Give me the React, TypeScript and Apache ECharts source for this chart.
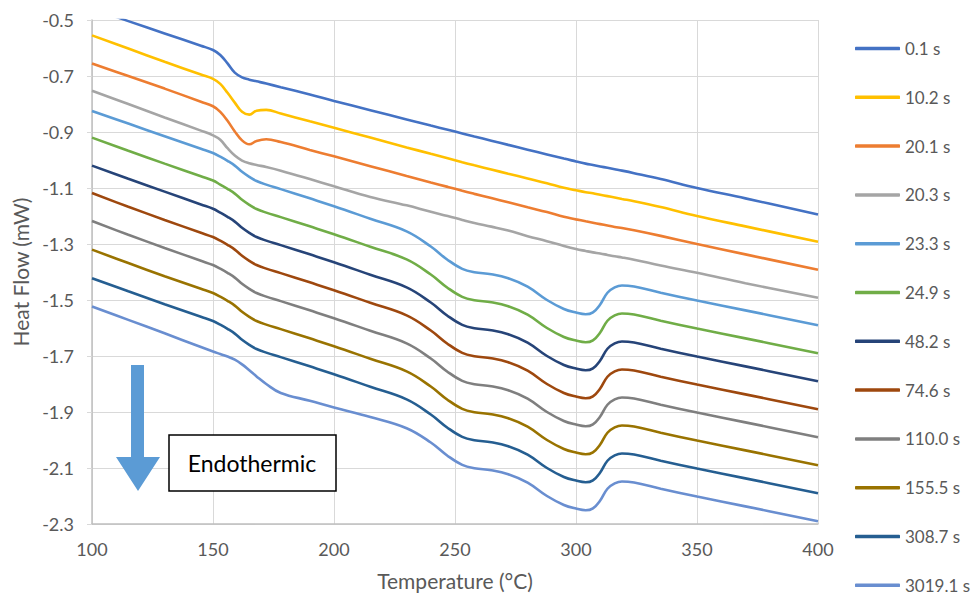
import React, { useEffect, useRef } from "react";
import * as echarts from "echarts";

const temperatures = [100, 115, 130, 145, 150, 153, 156, 159, 162, 165, 168, 172, 178, 190, 200, 215, 230, 240, 247, 253, 258, 265, 272, 280, 288, 295, 300, 304, 307, 310, 313, 316, 319, 324, 335, 350, 370, 400];

const labels = ["0.1 s", "10.2 s", "20.1 s", "20.3 s", "23.3 s", "24.9 s", "48.2 s", "74.6 s", "110.0 s", "155.5 s", "308.7 s", "3019.1 s"];
const colors = ["#4472C4", "#FFC000", "#ED7D31", "#A5A5A5", "#5B9BD5", "#70AD47", "#264478", "#9E480E", "#7F7F7F", "#997300", "#255E91", "#698ED0"];

const s0_1 = [-0.460, -0.504, -0.548, -0.592, -0.607, -0.625, -0.655, -0.688, -0.705, -0.713, -0.719, -0.727, -0.740, -0.766, -0.789, -0.822, -0.855, -0.877, -0.892, -0.905, -0.916, -0.931, -0.946, -0.963, -0.980, -0.995, -1.005, -1.013, -1.018, -1.023, -1.028, -1.033, -1.038, -1.047, -1.068, -1.100, -1.137, -1.195];
const s10_2 = [-0.555, -0.602, -0.649, -0.695, -0.710, -0.728, -0.760, -0.795, -0.828, -0.838, -0.824, -0.821, -0.834, -0.862, -0.885, -0.920, -0.955, -0.978, -0.994, -1.008, -1.019, -1.034, -1.049, -1.066, -1.083, -1.099, -1.108, -1.115, -1.119, -1.124, -1.129, -1.134, -1.139, -1.147, -1.168, -1.200, -1.237, -1.292];
const s20_1 = [-0.655, -0.700, -0.745, -0.792, -0.808, -0.828, -0.860, -0.898, -0.930, -0.944, -0.932, -0.926, -0.936, -0.964, -0.987, -1.022, -1.057, -1.080, -1.096, -1.110, -1.121, -1.136, -1.151, -1.169, -1.186, -1.203, -1.212, -1.219, -1.224, -1.229, -1.234, -1.239, -1.243, -1.251, -1.271, -1.300, -1.337, -1.392];
const s20_3 = [-0.753, -0.800, -0.848, -0.895, -0.912, -0.928, -0.958, -0.984, -1.002, -1.012, -1.018, -1.025, -1.038, -1.068, -1.094, -1.132, -1.162, -1.185, -1.200, -1.214, -1.225, -1.238, -1.252, -1.272, -1.290, -1.307, -1.318, -1.325, -1.330, -1.334, -1.339, -1.344, -1.348, -1.356, -1.377, -1.403, -1.440, -1.492];
const s23_3 = [-0.825, -0.870, -0.915, -0.960, -0.975, -0.988, -1.003, -1.020, -1.042, -1.060, -1.075, -1.088, -1.104, -1.137, -1.165, -1.210, -1.255, -1.309, -1.357, -1.389, -1.401, -1.408, -1.422, -1.452, -1.500, -1.532, -1.545, -1.551, -1.544, -1.516, -1.474, -1.455, -1.448, -1.452, -1.474, -1.502, -1.537, -1.590];
const s24_9 = [-0.920, -0.967, -1.013, -1.058, -1.073, -1.088, -1.103, -1.120, -1.142, -1.160, -1.175, -1.188, -1.204, -1.237, -1.265, -1.310, -1.355, -1.409, -1.457, -1.489, -1.501, -1.508, -1.522, -1.552, -1.600, -1.632, -1.645, -1.651, -1.644, -1.616, -1.574, -1.555, -1.548, -1.552, -1.574, -1.602, -1.637, -1.690];
const s48_2 = [-1.020, -1.067, -1.113, -1.159, -1.174, -1.188, -1.203, -1.220, -1.242, -1.260, -1.275, -1.288, -1.304, -1.337, -1.365, -1.410, -1.455, -1.509, -1.557, -1.589, -1.601, -1.608, -1.622, -1.652, -1.700, -1.732, -1.745, -1.751, -1.744, -1.716, -1.674, -1.655, -1.648, -1.652, -1.674, -1.702, -1.737, -1.790];
const s74_6 = [-1.118, -1.167, -1.214, -1.260, -1.275, -1.288, -1.303, -1.320, -1.342, -1.360, -1.375, -1.388, -1.404, -1.437, -1.465, -1.510, -1.555, -1.609, -1.657, -1.689, -1.701, -1.708, -1.722, -1.752, -1.800, -1.832, -1.845, -1.851, -1.844, -1.816, -1.774, -1.755, -1.748, -1.752, -1.774, -1.802, -1.837, -1.890];
const s110_0 = [-1.218, -1.267, -1.314, -1.360, -1.375, -1.388, -1.403, -1.420, -1.442, -1.460, -1.475, -1.488, -1.504, -1.537, -1.565, -1.610, -1.655, -1.709, -1.757, -1.789, -1.801, -1.808, -1.822, -1.852, -1.900, -1.932, -1.945, -1.951, -1.944, -1.916, -1.874, -1.855, -1.848, -1.852, -1.874, -1.902, -1.937, -1.990];
const s155_5 = [-1.320, -1.368, -1.415, -1.460, -1.475, -1.488, -1.503, -1.520, -1.542, -1.560, -1.575, -1.588, -1.604, -1.637, -1.665, -1.710, -1.755, -1.809, -1.857, -1.889, -1.901, -1.908, -1.922, -1.952, -2.000, -2.032, -2.045, -2.051, -2.044, -2.016, -1.974, -1.955, -1.948, -1.952, -1.974, -2.002, -2.037, -2.090];
const s308_7 = [-1.422, -1.469, -1.515, -1.560, -1.575, -1.588, -1.603, -1.620, -1.642, -1.660, -1.675, -1.688, -1.704, -1.737, -1.765, -1.810, -1.855, -1.909, -1.957, -1.989, -2.001, -2.008, -2.022, -2.052, -2.100, -2.132, -2.145, -2.151, -2.144, -2.116, -2.074, -2.055, -2.048, -2.052, -2.074, -2.102, -2.137, -2.190];
const s3019_1 = [-1.523, -1.571, -1.619, -1.668, -1.684, -1.693, -1.702, -1.713, -1.730, -1.751, -1.773, -1.800, -1.832, -1.860, -1.884, -1.918, -1.958, -2.009, -2.057, -2.089, -2.101, -2.108, -2.122, -2.152, -2.200, -2.232, -2.245, -2.251, -2.244, -2.216, -2.174, -2.155, -2.148, -2.152, -2.174, -2.202, -2.237, -2.290];

const allSeries = [s0_1, s10_2, s20_1, s20_3, s23_3, s24_9, s48_2, s74_6, s110_0, s155_5, s308_7, s3019_1];

const FONT = "Lato";
const TEXT = "#595959";

export default function App() {
  const ref = useRef<HTMLDivElement>(null);
  useEffect(() => {
    if (!ref.current) return;
    const chart = echarts.init(ref.current, null, { renderer: "svg" });
    chart.setOption({
      animation: false,
      backgroundColor: "#ffffff",
      grid: { left: 92, right: 158, top: 20, bottom: 71, containLabel: false },
      xAxis: {
        type: "value",
        min: 100,
        max: 400,
        interval: 50,
        name: "Temperature (°C)",
        nameLocation: "middle",
        nameGap: 46,
        nameTextStyle: { color: TEXT, fontFamily: FONT, fontSize: 21 },
        axisLine: { show: true, lineStyle: { color: "#BFBFBF", width: 1.5 } },
        axisTick: { show: false },
        axisLabel: { color: TEXT, fontFamily: FONT, fontSize: 18, margin: 16 },
        splitLine: { show: true, lineStyle: { color: "#D9D9D9", width: 1 } },
      },
      yAxis: {
        type: "value",
        min: -2.3,
        max: -0.5,
        interval: 0.2,
        name: "Heat Flow (mW)",
        nameLocation: "middle",
        nameGap: 60,
        nameTextStyle: { color: TEXT, fontFamily: FONT, fontSize: 21 },
        axisLine: { show: true, onZero: false, lineStyle: { color: "#BFBFBF", width: 1.5 } },
        axisTick: { show: true, length: 5, lineStyle: { color: "#D9D9D9" } },
        axisLabel: {
          color: TEXT,
          fontFamily: FONT,
          fontSize: 18,
          margin: 18,
          formatter: (v: number) => v.toFixed(1),
        },
        splitLine: { show: true, lineStyle: { color: "#D9D9D9", width: 1 } },
      },
      legend: {
        orient: "vertical",
        left: 855,
        top: 40,
        width: 120,
        height: 640,
        padding: 0,
        itemWidth: 45,
        itemHeight: 3.5,
        itemGap: 31.8,
        icon: "roundRect",
        textStyle: { color: TEXT, fontFamily: FONT, fontSize: 17, lineHeight: 16 },
        data: labels,
      },
      graphic: [
        {
          type: "polygon",
          z: 100,
          shape: {
            points: [
              [131, 365],
              [144, 365],
              [144, 457],
              [160, 457],
              [138, 491],
              [116, 457],
              [131, 457],
            ],
          },
          style: { fill: "#5B9BD5" },
        },
        {
          type: "rect",
          z: 100,
          shape: { x: 169, y: 435, width: 167, height: 56 },
          style: { fill: "#ffffff", stroke: "#000000", lineWidth: 1.5 },
        },
        {
          type: "text",
          z: 101,
          x: 252,
          y: 463,
          style: {
            text: "Endothermic",
            fill: "#000000",
            font: `23px ${FONT}`,
            align: "center",
            verticalAlign: "middle",
          },
        },
      ],
      series: allSeries.map((vals, i) => ({
        name: labels[i],
        type: "line",
        data: temperatures.map((t, j) => [t, vals[j]]),
        showSymbol: false,
        symbol: "none",
        smooth: 0.4,
        clip: true,
        color: colors[i],
        lineStyle: { color: colors[i], width: 2.6 },
      })),
    });
    return () => chart.dispose();
  }, []);
  return (
    <div
      ref={ref}
      style={{ position: "absolute", left: 0, top: 0, width: 976, height: 596 }}
    />
  );
}
